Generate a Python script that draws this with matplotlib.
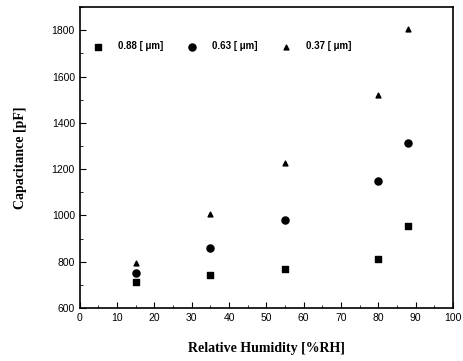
import numpy as np
import matplotlib
matplotlib.use("Agg")
import matplotlib.pyplot as plt
from matplotlib.ticker import MultipleLocator

humidity = [15, 35, 55, 80, 88]
cap_088 = [712, 742, 770, 810, 953]
cap_063 = [750, 860, 982, 1148, 1312]
cap_037 = [795, 1008, 1228, 1520, 1805]
labels = ["0.88 [ \u03bcm]", "0.63 [ \u03bcm]", "0.37 [ \u03bcm]"]

plt.rcParams["font.family"] = ["Liberation Sans", "DejaVu Sans"]

fig = plt.figure(figsize=(4.64, 3.61), dpi=100)
ax = fig.add_axes([0.172, 0.147, 0.804, 0.833])

ax.scatter(humidity, cap_088, marker="s", s=22, color="black", label=labels[0])
ax.scatter(humidity, cap_063, marker="o", s=26, color="black", label=labels[1])
ax.scatter(humidity, cap_037, marker="^", s=12, color="black", label=labels[2])

ax.set_xlim(0, 100)
ax.set_ylim(600, 1900)
ax.xaxis.set_major_locator(MultipleLocator(10))
ax.xaxis.set_minor_locator(MultipleLocator(5))
ax.yaxis.set_minor_locator(MultipleLocator(100))
ax.set_yticks(np.arange(600, 1801, 200))
ax.tick_params(which="both", direction="in", labelsize=7.5)
ax.tick_params(which="major", length=4)
ax.tick_params(which="minor", length=2)
for s in ax.spines.values():
    s.set_linewidth(1.2)

ax.set_xlabel("Relative Humidity [%RH]", family="Liberation Serif",
              fontweight="bold", fontsize=10, labelpad=14)
ax.set_ylabel("Capacitance [pF]", family="Liberation Serif",
              fontweight="bold", fontsize=10, labelpad=18)

ax.legend(loc="upper left", ncol=3, frameon=False,
          handletextpad=1.0, columnspacing=2.0, borderaxespad=0.3,
          bbox_to_anchor=(0.005, 0.91), prop={"weight": "bold", "size": 7})

fig.savefig("out.png", dpi=100)
